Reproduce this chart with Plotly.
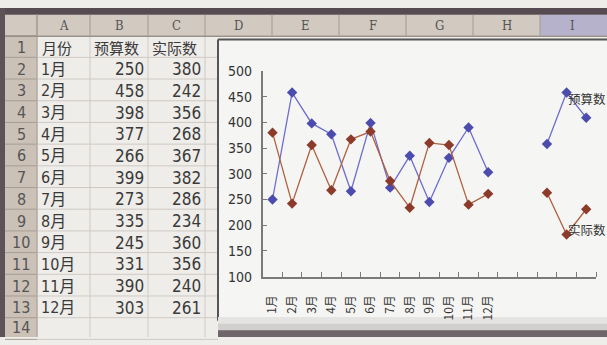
import plotly.graph_objects as go

# ---------------- data ----------------
months = ["1月", "2月", "3月", "4月", "5月", "6月", "7月", "8月", "9月", "10月", "11月", "12月"]
budget = [250, 458, 398, 377, 266, 399, 273, 335, 245, 331, 390, 303]
actual = [380, 242, 356, 268, 367, 382, 286, 234, 360, 356, 240, 261]
# extra points plotted on the chart beyond the 12 months (positions 13..17, first two empty)
budget_extra = [None, None, 358, 458, 409]
actual_extra = [None, None, 263, 182, 231]
col_letters = ["A", "B", "C", "D", "E", "F", "G", "H", "I"]
header_row = ["月份", "预算数", "实际数"]
series_names = ["预算数", "实际数"]
label_index = 15  # the point that carries the series-name label

W, H = 607, 345


def px(x):
    return x / W


def py(y):
    return 1 - y / H


shapes = []
annotations = []


def rect(x0, y0, x1, y1, fill, line=None, lw=0, layer="below"):
    shapes.append(dict(type="rect", xref="paper", yref="paper",
                       x0=px(x0), x1=px(x1), y0=py(y1), y1=py(y0),
                       fillcolor=fill, line=dict(color=line or fill, width=lw), layer=layer))


def line(x0, y0, x1, y1, color, w=1, layer="below"):
    shapes.append(dict(type="line", xref="paper", yref="paper",
                       x0=px(x0), x1=px(x1), y0=py(y0), y1=py(y1),
                       line=dict(color=color, width=w), layer=layer))


def text(x, y, s, size=16, color="#3a3a3a", xanchor="left", family="Liberation Sans Narrow, DejaVu Sans Condensed, Noto Sans CJK SC"):
    annotations.append(dict(xref="paper", yref="paper", x=px(x), y=py(y), text=s,
                            showarrow=False, xanchor=xanchor, yanchor="middle",
                            font=dict(size=size, color=color, family=family)))


# spreadsheet geometry
col_edges = [37, 90, 148, 205, 272, 339, 406, 473, 540, 620]
row_top = 29
row_h = 22.75
n_rows = 14

# cell area background
rect(0, 0, W, H, "#efede9")
# column header row
rect(0, 7, W, 29, "#d2c9c0")
rect(540, 7, W, 29, "#b6b2cc")
# row header column
rect(0, 29, 37, H, "#cbc1b7")
# dark photo borders
rect(0, 0, W, 7, "#574b52")
rect(0, 0, 5, H, "#5d5258")

# grid lines
for i in range(n_rows + 1):
    y = row_top + i * row_h
    line(37, y, 218, y, "#cfc9c5", 1)
    line(5, y, 37, y, "#a89d94", 1)
for x in col_edges[:4]:
    line(x, 29, x, H, "#cfc9c5", 1)
for x in col_edges[:-1]:
    line(x, 7, x, 29, "#a39990", 1)
line(5, 29.5, W, 29.5, "#9a918b", 1.5)
line(37, 7, 37, H, "#a39990", 1)

# column letters
for i, c in enumerate(col_letters):
    cx = (col_edges[i] + col_edges[i + 1]) / 2 if i < 8 else 572
    text(cx, 18, c, size=13, color="#555", xanchor="center", family="DejaVu Serif Condensed, DejaVu Serif")
# row numbers
for r in range(n_rows):
    yc = row_top + r * row_h + row_h / 2 + 1
    if r == n_rows - 1:
        yc = min(yc, 335)
    text(21, yc, str(r + 1), size=16, color="#555", xanchor="center")

# table text
text(40, row_top + row_h / 2 + 1, header_row[0], size=15, family="Noto Sans CJK SC")
text(92, row_top + row_h / 2 + 1, header_row[1], size=15, family="Noto Sans CJK SC")
text(150, row_top + row_h / 2 + 1, header_row[2], size=15, family="Noto Sans CJK SC")
for i, m in enumerate(months):
    yc = row_top + (i + 1) * row_h + row_h / 2 + 1
    text(39, yc, m, size=16)
    text(146, yc, str(budget[i]), size=17, xanchor="right")
    text(203, yc, str(actual[i]), size=17, xanchor="right")

# chart area
rect(218, 33, W + 5, 328, "#f5f5f3")
line(218, 33, W, 33, "#555", 2)
line(218, 33, 218, 328, "#555", 2)
rect(218, 324, W, 332, "#e6e4e2")
rect(218, 331, W, 339, "#d2d0ce")
rect(218, 338, W, H, "#6d6569")

xs = list(range(1, 18))
b_all = budget + budget_extra
a_all = actual + actual_extra

fig = go.Figure()
fig.add_trace(go.Scatter(
    x=xs, y=b_all, mode="lines+markers", name=series_names[0],
    line=dict(color="#6e6ccc", width=1.3),
    marker=dict(symbol="diamond", size=8, color="#4c4cae"),
    cliponaxis=False))
fig.add_trace(go.Scatter(
    x=xs, y=a_all, mode="lines+markers", name=series_names[1],
    line=dict(color="#b0603e", width=1.3),
    marker=dict(symbol="diamond", size=8, color="#8c3a2a"),
    cliponaxis=False))

# series-name data labels attached to a point of each series
annotations.append(dict(xref="x", yref="y", x=xs[label_index], y=b_all[label_index],
                        text=series_names[0], showarrow=False, xanchor="left", yanchor="middle",
                        xshift=-1, yshift=-6,
                        font=dict(size=12.5, color="#333", family="Noto Sans CJK SC")))
annotations.append(dict(xref="x", yref="y", x=xs[label_index], y=a_all[label_index],
                        text=series_names[1], showarrow=False, xanchor="left", yanchor="middle",
                        xshift=-1, yshift=5,
                        font=dict(size=12.5, color="#333", family="Noto Sans CJK SC")))

fig.update_layout(
    width=W, height=H,
    margin=dict(l=0, r=0, t=0, b=0),
    paper_bgcolor="#efede9",
    plot_bgcolor="rgba(0,0,0,0)",
    showlegend=False,
    hovermode=False,
    shapes=shapes,
    annotations=annotations,
    xaxis=dict(
        domain=[px(262.7), px(596)],
        range=[0.5, 17.5],
        tickmode="array", tickvals=list(range(1, 13)), ticktext=months,
        ticks="", tickangle=-90, ticklabelstandoff=12,
        tickfont=dict(size=12, color="#333", family="Noto Sans CJK SC"),
        showline=True, linecolor="#7a7a7a", linewidth=1.5,
        showgrid=False, zeroline=False,
        minor=dict(tickmode="array", tickvals=[i + 0.5 for i in range(18)],
                   ticks="inside", ticklen=5, tickcolor="#7a7a7a", tickwidth=1.2,
                   showgrid=False),
    ),
    yaxis=dict(
        domain=[py(281.7), py(66)],
        range=[100, 500], dtick=50,
        ticks="inside", ticklen=5, tickcolor="#7a7a7a", tickwidth=1.2,
        ticklabelstandoff=6,
        tickfont=dict(size=14, color="#333", family="Liberation Sans Narrow, DejaVu Sans Condensed"),
        showline=True, linecolor="#7a7a7a", linewidth=1.5,
        showgrid=False, zeroline=False,
    ),
)

fig.write_html(
    "out.html",
    config={"displayModeBar": False},
    post_script="document.body.style.margin='0';document.body.style.padding='0';"
                "document.documentElement.style.overflow='hidden';",
)
